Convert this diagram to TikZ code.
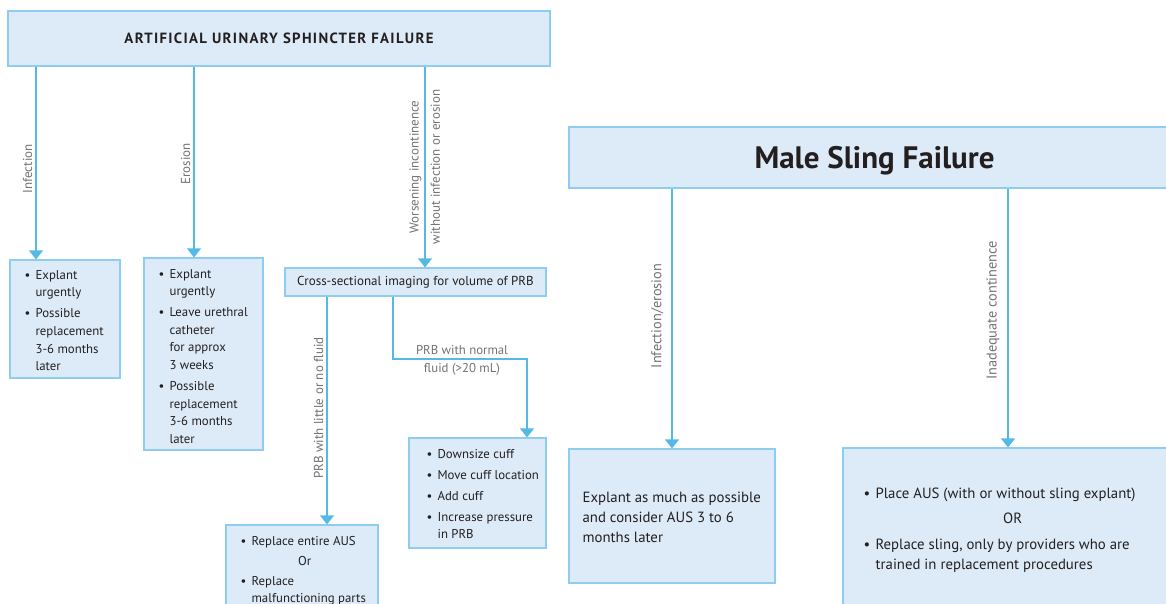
\documentclass[tikz,border=0pt]{standalone}
\usepackage{fontspec}
\setmainfont{PT Sans}
\usetikzlibrary{arrows.meta}
\definecolor{boxfill}{RGB}{221,235,248}
\definecolor{boxline}{RGB}{140,205,240}
\definecolor{arrline}{RGB}{85,185,232}
\definecolor{txt}{RGB}{35,31,32}
\definecolor{lbl}{RGB}{115,115,115}
\newcommand\bu{\makebox[11pt][l]{\textbullet}}
\newcommand\ind{\hspace*{11pt}}
\newcommand\bub{\makebox[12pt][l]{\textbullet}}
\newcommand\indb{\hspace*{12pt}}
\begin{document}
\begin{tikzpicture}[x=1pt,y=-1pt,
  box/.style={draw=boxline, fill=boxfill, line width=1.2pt, inner sep=0pt, text=txt},
  body/.style={inner sep=0pt, align=left, text=txt, font=\fontsize{12.8}{17.6}\selectfont, anchor=north west},
  big/.style={inner sep=0pt, align=left, text=txt, font=\fontsize{14.8}{20}\selectfont, anchor=north west},
  arr/.style={draw=arrline, line width=1.3pt, -{Triangle[width=14pt,length=9pt]}},
  lab/.style={text=lbl, font=\fontsize{13}{15}\selectfont, inner sep=3pt, rotate=90},
  labm/.style={text=lbl, font=\fontsize{14.3}{16}\selectfont, inner sep=8pt, rotate=90},
  labh/.style={text=lbl, font=\fontsize{12.8}{14}\selectfont, inner sep=4pt},
]
\useasboundingbox (0,0) rectangle (1166,603);
\fill[white] (0,0) rectangle (1166,603);
\clip (0,0) rectangle (1166,603);

% ---------- Artificial urinary sphincter ----------
\node[box, minimum width=542, minimum height=55] (aus) at (279,38.5)
  {\fontsize{14.8}{16}\selectfont\bfseries\addfontfeature{LetterSpace=9}ARTIFICIAL URINARY SPHINCTER FAILURE};

\node[box, minimum width=110, minimum height=118] (inf) at (65,319) {};
\node[body] (infT) at ([shift={(15,10.8)}]inf.north west)
  {\bu Explant\\ \ind urgently\\[3.4pt]
   \bu Possible\\ \ind replacement\\ \ind 3-6 months\\ \ind later};

\node[box, minimum width=119, minimum height=192] (ero) at (203.5,354) {};
\node[body] (eroT) at ([shift={(15,11.6)}]ero.north west)
  {\bu Explant\\ \ind urgently\\[3.4pt]
   \bu Leave urethral\\ \ind catheter\\ \ind for approx\\ \ind 3 weeks\\[3.4pt]
   \bu Possible\\ \ind replacement\\ \ind 3-6 months\\ \ind later};

\node[box, minimum width=261, minimum height=28] (cross) at (415.5,282)
  {\fontsize{13}{15}\selectfont Cross-sectional imaging for volume of PRB};

\node[box, minimum width=137, minimum height=110] (dn) at (477.5,493) {};
\node[body] (dnT) at ([shift={(18,11.6)}]dn.north west)
  {\bu Downsize cuff\\[3.4pt] \bu Move cuff location\\[3.4pt] \bu Add cuff\\[3.4pt]
   \bu Increase pressure\\ \ind in PRB};

\node[box, minimum width=152, minimum height=95] (rep) at (302,572.5) {};
\node[body] (repT) at ([shift={(15,11.6)}]rep.north west)
  {\bu Replace entire AUS\\[2.4pt] \makebox[128pt][c]{Or}\\[2.4pt]
   \bu Replace\\ \ind malfunctioning parts};

\draw[arr] (aus.south -| 36,0) -- node[lab, pos=0.53, anchor=south] (l1) {Infection} (inf.north -| 36,0);
\draw[arr] (aus.south -| 194,0) -- node[lab, pos=0.51, anchor=south] (l2) {Erosion} (ero.north -| 194,0);
\draw[arr] (aus.south -| 425,0) -- node[lab, pos=0.5, anchor=south] (l3) {Worsening incontinence}
  node[lab, pos=0.5, anchor=north, inner sep=5pt] (l4) {without infection or erosion} (cross.north -| 425,0);
\draw[arr] (cross.south -| 327,0) -- node[lab, pos=0.49, anchor=south] (l5) {PRB with little or no fluid} (rep.north -| 327,0);
\coordinate (nb) at (462,359);
\draw[arr] (cross.south -| 393,0) |- (nb) -| (dn.north -| 527,0);
\node[labh, anchor=south] (l6) at (nb) {PRB with normal};
\node[labh, anchor=north] (l7) at (nb) {fluid (>20 mL)};

% ---------- Male sling ----------
\node[box, minimum width=611, minimum height=61, text depth=0pt] (msf) at (874.5,157.5)
  {\fontsize{31}{34}\selectfont\bfseries Male Sling Failure};

\node[box, minimum width=206, minimum height=134] (ml) at (672,516) {};
\node[big] (mlT) at ([shift={(14,43.3)}]ml.north west)
  {Explant as much as possible\\ and consider AUS 3 to 6\\ months later};

\node[box, minimum width=337, minimum height=172] (mr) at (1011.5,534) {};
\node[big] (mrT) at ([shift={(21,40.3)}]mr.north west)
  {\bub Place AUS (with or without sling explant)\\[5pt]
   \makebox[298pt][c]{OR}\\[6pt]
   \bub Replace sling, only by providers who are\\ \indb trained in replacement procedures};

\draw[arr] (msf.south -| 672,0) -- node[labm, pos=0.49, anchor=south] (l8) {Infection/erosion} (ml.north -| 672,0);
\draw[arr] (msf.south -| 1008,0) -- node[labm, pos=0.47, anchor=south] (l9) {Inadequate continence} (mr.north -| 1008,0);
\end{tikzpicture}
\end{document}
